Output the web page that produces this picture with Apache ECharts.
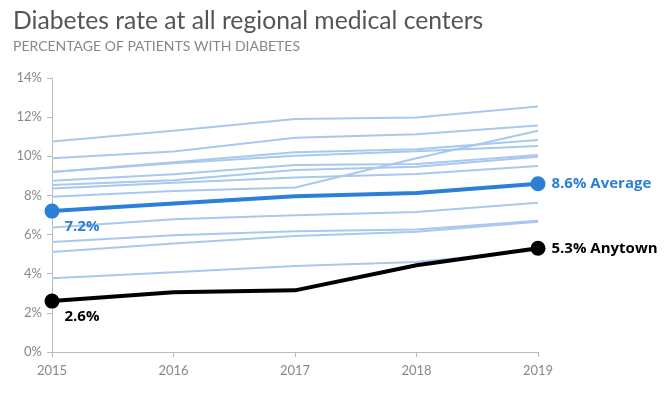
<!DOCTYPE html>
<html>
<head>
<meta charset="utf-8">
<script src="https://cdn.jsdelivr.net/npm/echarts@6/dist/echarts.min.js"></script>
<style>
  html, body { margin: 0; padding: 0; background: #fff; }
  #main { width: 672px; height: 397px; }
</style>
</head>
<body>
<div id="main"></div>
<script>
"use strict";
// years on the x axis
let years = ['2015', '2016', '2017', '2018', '2019'];

// the other regional centers (light lines)
let centerA = [10.75, 11.31, 11.9, 11.98, 12.54];
let centerB = [9.9, 10.24, 10.95, 11.13, 11.57];
let centerC = [9.2, 9.7, 10.2, 10.36, 10.83];
let centerD = [9.2, 9.65, 10.03, 10.26, 10.53];
let centerE = [8.75, 9.08, 9.55, 9.6, 10.07];
let centerF = [8.53, 8.78, 9.3, 9.47, 9.98];
let centerG = [8.36, 8.65, 8.92, 9.09, 9.5];
let centerR = [7.93, 8.22, 8.41, 9.9, 11.3];
let centerH = [6.36, 6.78, 6.99, 7.15, 7.62];
let centerI = [5.62, 5.96, 6.17, 6.26, 6.7];
let centerJ = [5.11, 5.54, 5.93, 6.14, 6.65];
let centerK = [3.77, 4.08, 4.39, 4.6, 5.2];

let average = [7.2, 7.59, 7.96, 8.13, 8.6];
let anytown = [2.6, 3.05, 3.15, 4.43, 5.3];

let myChart = echarts.init(document.getElementById('main'));

let lightLines = [centerA, centerB, centerC, centerD, centerE, centerF, centerG, centerR, centerH, centerI, centerJ, centerK];
let lightColor = '#a8c8ee';
let avgColor = '#2b7fd6';
let fontName = 'Lato';
let labelFont = 'Open Sans';

// label first and last point of a highlighted line
function markEnds(values, color, name) {
    return values.map(function (v, i) {
        if (i === 0) {
            return {
                value: v,
                symbolSize: 15,
                label: {
                    show: true, position: 'right', distance: 5, offset: [0, 16],
                    formatter: v.toFixed(1) + '%', color: color,
                    fontFamily: labelFont, fontWeight: 'bold', fontSize: 15
                }
            };
        }
        if (i === values.length - 1) {
            return {
                value: v,
                symbolSize: 15,
                label: {
                    show: true, position: 'right', distance: 6,
                    formatter: v.toFixed(1) + '% ' + name, color: color,
                    fontFamily: labelFont, fontWeight: 'bold', fontSize: 15
                }
            };
        }
        return { value: v, symbolSize: 0 };
    });
}

let series = lightLines.map(function (arr) {
    return {
        type: 'line',
        data: arr,
        showSymbol: false,
        silent: true,
        lineStyle: { color: lightColor, width: 2 },
        z: 1
    };
});
series.push({
    name: 'Average',
    type: 'line',
    data: markEnds(average, avgColor, 'Average'),
    symbol: 'circle',
    itemStyle: { color: avgColor },
    lineStyle: { color: avgColor, width: 4 },
    z: 3
});
series.push({
    name: 'Anytown',
    type: 'line',
    data: markEnds(anytown, '#000', 'Anytown'),
    symbol: 'circle',
    itemStyle: { color: '#000' },
    lineStyle: { color: '#000', width: 4 },
    z: 4
});

let option = {
    animation: false,
    title: {
        text: 'Diabetes rate at all regional medical centers',
        subtext: 'PERCENTAGE OF PATIENTS WITH DIABETES',
        left: 8,
        top: 4,
        itemGap: 5,
        textStyle: { fontFamily: fontName, fontWeight: 'normal', fontSize: 24.7, color: '#555' },
        subtextStyle: { fontFamily: fontName, fontSize: 14, color: '#888' }
    },
    grid: { left: 52, right: 134, top: 78, bottom: 45 },
    xAxis: {
        type: 'category',
        data: years,
        boundaryGap: false,
        axisLine: { lineStyle: { color: '#bbb' } },
        axisTick: { show: true, length: 5, lineStyle: { color: '#bbb' } },
        axisLabel: { color: '#888', fontFamily: fontName, fontSize: 13, margin: 12 }
    },
    yAxis: {
        type: 'value',
        min: 0,
        max: 14,
        interval: 2,
        axisLine: { show: true, lineStyle: { color: '#bbb' } },
        axisTick: { show: true, length: 5, lineStyle: { color: '#bbb' } },
        splitLine: { show: false },
        axisLabel: { formatter: '{value}%', color: '#888', fontFamily: fontName, fontSize: 13, margin: 10 }
    },
    series: series
};
myChart.setOption(option);
</script>
</body>
</html>
